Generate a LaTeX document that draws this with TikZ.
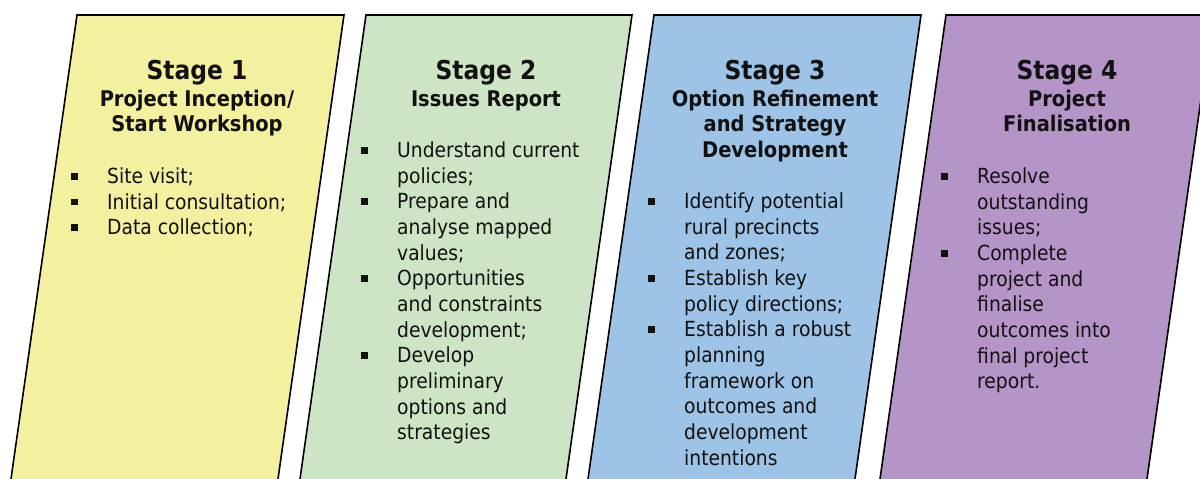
\documentclass[tikz,border=0pt]{standalone}
\usepackage{fontspec}
\setmainfont{DejaVu Sans Condensed}[BoldFont={DejaVu Sans Condensed Bold}]
\usetikzlibrary{positioning}
\definecolor{colorinception}{RGB}{243,240,159}
\definecolor{colorissues}   {RGB}{205,229,196}
\definecolor{colorrefine}   {RGB}{157,195,230}
\definecolor{colorfinal}    {RGB}{181,149,199}
\definecolor{colortext}     {RGB}{17,17,17}
% square bullet hanging left of the item text
\newcommand\sqitem{\makebox[0pt][r]{\raisebox{4pt}{\rule{6.5pt}{6.5pt}}\hspace{29.5pt}}}

\begin{document}
\begin{tikzpicture}[
    x=1pt, y=-1pt,
    panel/.style={draw=black,line width=1.6pt},
    title/.style={text=colortext,font={\fontsize{26}{32}\selectfont\bfseries},inner sep=0pt,anchor=base},
    subtitle/.style={text=colortext,font={\fontsize{21.6}{25.5}\selectfont\bfseries},align=center,inner sep=0pt,anchor=north},
    items/.style={text=colortext,font={\fontsize{20.8}{25.65}\selectfont},align=left,inner sep=0pt,anchor=north west},
]
    \useasboundingbox (0,0) rectangle (1200,479);
    \clip (0,0) rectangle (1200,479);

    % Panels
    \filldraw[panel,fill=colorinception] (77,15)  -- (344,15)  -- (275,500)  -- (8,500)   -- cycle;
    \filldraw[panel,fill=colorissues]    (366,15) -- (632,15)  -- (563,500)  -- (297,500) -- cycle;
    \filldraw[panel,fill=colorrefine]    (654,15) -- (921,15)  -- (852,500)  -- (585,500) -- cycle;
    \filldraw[panel,fill=colorfinal]     (946,15) -- (1213,15) -- (1144,500) -- (877,500) -- cycle;

    % Titles
    \node[title] (title1) at (197,79)  {Stage 1};
    \node[title] (title2) at (486,79)  {Stage 2};
    \node[title] (title3) at (775,79)  {Stage 3};
    \node[title] (title4) at (1067,79) {Stage 4};

    \node[subtitle] (sub1) at (197,88.2)  {\strut Project Inception/\\Start Workshop};
    \node[subtitle] (sub2) at (486,88.2)  {\strut Issues Report};
    \node[subtitle] (sub3) at (775,88.2)  {\strut Option Refinement\\and Strategy\\Development};
    \node[subtitle] (sub4) at (1067,88.2) {\strut Project\\Finalisation};

    % Lists
    \node[items] (list1) at (107,165.5) {\strut\sqitem Site visit;\\
        \sqitem Initial consultation;\\
        \sqitem Data collection;};
    \node[items] (list2) at (397,139.5) {\strut\sqitem Understand current\\policies;\\
        \sqitem Prepare and\\analyse mapped\\values;\\
        \sqitem Opportunities\\and constraints\\development;\\
        \sqitem Develop\\preliminary\\options and\\strategies};
    \node[items] (list3) at (684,190.5) {\strut\sqitem Identify potential\\rural precincts\\and zones;\\
        \sqitem Establish key\\policy directions;\\
        \sqitem Establish a robust\\planning\\framework on\\outcomes and\\development\\intentions};
    \node[items] (list4) at (977,165.5) {\strut\sqitem Resolve\\outstanding\\issues;\\
        \sqitem Complete\\project and\\finalise\\outcomes into\\final project\\report.};

\end{tikzpicture}
\end{document}
